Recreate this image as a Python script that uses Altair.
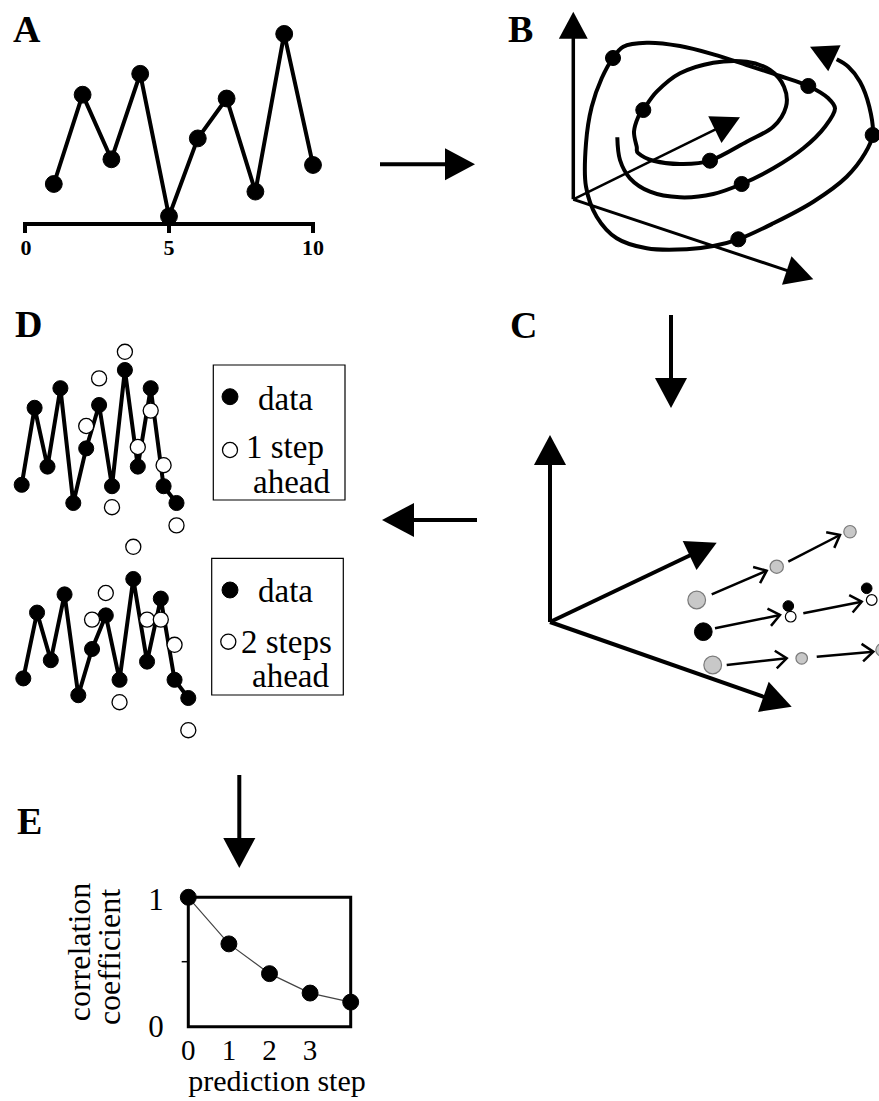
import math
import altair as alt
import pandas as pd

W, H = 879, 1101

# ---------------- data ----------------
# Panel A: time series
a_time = [1, 2, 3, 4, 5, 6, 7, 8, 9, 10]
a_value = [2.0, 6.7, 3.3, 7.8, 0.3, 4.4, 6.5, 1.6, 9.9, 3.0]
a_ticks = [0, 5, 10]

# Panel D: data and predictions
d_time = [1, 2, 3, 4, 5, 6, 7, 8, 9, 10, 11, 12, 13]
d1_data = [1.8, 7.3, 3.1, 8.7, 0.5, 4.4, 7.5, 1.7, 10.0, 3.1, 8.7, 1.7, 0.5]
d1_pred_time = [6, 7, 8, 9, 10, 11, 12, 13]
d1_pred = [6.0, 9.4, 0.2, 11.3, 4.5, 7.1, 3.2, -1.1]
d2_data = [1.9, 6.6, 3.2, 7.9, 0.7, 4.0, 6.4, 1.8, 9.0, 3.1, 7.6, 1.8, 0.5]
d2_pred_time = [6, 7, 8, 9, 10, 11, 12, 13]
d2_pred = [6.1, 8.0, 0.2, 11.3, 6.1, 6.1, 4.3, -1.8]

# Panel E: correlation vs prediction step
e_step = [0, 1, 2, 3, 4]
e_corr = [1.0, 0.64, 0.41, 0.26, 0.19]
e_xticks = [0, 1, 2, 3]
e_yticks = [0, 1]

# Panel B: schematic attractor trajectory (drawing geometry)
b_inner_x = [636.7, 634, 638.3, 643.3, 656.7, 680, 713.3, 746.7, 770, 784, 786, 773.3, 746.7, 710, 680, 653.3, 638.3]
b_inner_y = [146.7, 131.7, 116.7, 110, 91.7, 73.3, 62.7, 61.7, 70, 86.7, 106.7, 126.7, 141.7, 160.7, 164, 160.7, 153.3]
b_outer_x = [617.3, 620, 630, 650, 680, 713.3, 741.7, 773.3, 803.3, 825, 835, 828.3, 808.3, 780, 746.7,
             713.3, 680, 646.7, 623.3, 612.7, 601.7, 591.7, 586, 586, 596.7, 616.7, 646.7, 686.7, 713.3,
             738.3, 773.3, 813.3, 846.7, 865, 872.7, 869.3, 860, 848.3, 836.7]
b_outer_y = [137.3, 160, 178.3, 191.7, 197.3, 194, 184, 168.3, 148.3, 126.7, 108.3, 98.3, 86, 76, 65,
             54.3, 46, 42.7, 46.7, 58.3, 78.3, 106.7, 143.3, 186.7, 216.7, 238.3, 248.3, 249.3, 246,
             239.3, 223.3, 201.7, 176.7, 153.3, 135, 106.7, 81.7, 66.7, 59.3]
b_dot_x = [613, 643.3, 808.3, 710, 741.7, 872.7, 738.3]
b_dot_y = [58, 110, 86, 160.7, 184, 135, 239.3]

# ---------------- helpers ----------------
XS = alt.Scale(domain=[0, W], nice=False, zero=False)
YS = alt.Scale(domain=[0, H], nice=False, zero=False, reverse=True)


def X(f="x"):
    return alt.X(f"{f}:Q", scale=XS, axis=None)


def Y(f="y"):
    return alt.Y(f"{f}:Q", scale=YS, axis=None)


rules = []   # straight segments
heads = []   # filled arrow heads
dots = []    # circles


def seg(x0, y0, x1, y1, sw):
    rules.append(dict(x=x0, y=y0, x2=x1, y2=y1, sw=sw))


def arrow(x0, y0, tx, ty, length, sw, shaft=True):
    dx, dy = tx - x0, ty - y0
    d = math.hypot(dx, dy)
    ux, uy = dx / d, dy / d
    ang = math.degrees(math.atan2(uy, ux)) % 360
    heads.append(dict(x=tx - ux * length / 2, y=ty - uy * length / 2, angle=ang, size=length ** 2))
    if shaft:
        seg(x0, y0, tx - ux * (length - 3), ty - uy * (length - 3), sw)


def dot(x, y, diam, fill, stroke="black", sw=1.0):
    dots.append(dict(x=x, y=y, size=math.pi * (diam / 2) ** 2, fill=fill, stroke=stroke, sw=sw))


# ---------------- Panel A ----------------
a_x = [25 + t * 28.8 for t in a_time]
a_y = [222 - v * 19 for v in a_value]
seg(25, 224, 313, 224, 4)
for t in a_ticks:
    seg(25 + t * 28.8, 222, 25 + t * 28.8, 233, 4)
for x, y in zip(a_x, a_y):
    dot(x, y, 19, "black")

# ---------------- arrows between panels ----------------
arrow(380, 164.3, 475, 164.3, 30, 4)
arrow(671, 315, 671, 408, 30, 4)
arrow(477, 520, 382, 520, 32, 4)
arrow(239.3, 775, 239.3, 868, 30, 4)

# ---------------- Panel B axes ----------------
arrow(573.3, 199.3, 573.3, 11.7, 27, 3.5)
arrow(573.3, 199.3, 813.3, 279.3, 28, 3)
arrow(573.3, 199.3, 740, 117.3, 28, 2.5)
arrow(836.7, 59.3, 810, 46.7, 27, 4, shaft=False)
for x, y in zip(b_dot_x, b_dot_y):
    dot(x, y, 17, "black")

# ---------------- Panel C ----------------
arrow(550, 622, 550, 435, 30, 4)
arrow(550, 622, 716.7, 542.7, 30, 4)
arrow(550, 622, 791.7, 706.7, 30, 4)

c_arrows = [
    (711.7, 594.3, 766.7, 570.7),
    (788.3, 561.7, 840, 535),
    (715, 628.3, 780, 615),
    (803.3, 613.3, 861.7, 601.7),
    (726.7, 665, 786.7, 658.3),
    (816.7, 656.7, 873.3, 651.7),
]
chev = []
for x0, y0, x1, y1 in c_arrows:
    seg(x0, y0, x1, y1, 2.5)
    chev.append(dict(x=x1, y=y1, angle=math.degrees(math.atan2(y1 - y0, x1 - x0)) % 360))

gray = "#c8c8c8"
for x, y, d in [(696.7, 600, 20), (776.7, 566.7, 15), (850, 531.7, 14),
                (712.7, 665, 20), (801.7, 658.3, 13), (882, 650, 14)]:
    dot(x, y, d, gray, "#7a7a7a", 1.2)
dot(790.7, 616.7, 12, "white", "black", 1.2)
dot(871.7, 600, 12, "white", "black", 1.2)
dot(703.3, 631.7, 20, "black")
dot(788.3, 606, 12, "black")
dot(866.7, 588.3, 12, "black")

# ---------------- Panel D ----------------
d1_x = [21.7 + (t - 1) * 12.9 for t in d_time]
d1_y = [510 - v * 14 for v in d1_data]
d1_px = [21.7 + (t - 1) * 12.9 for t in d1_pred_time]
d1_py = [510 - v * 14 for v in d1_pred]
d2_x = [23.3 + (t - 1) * 13.75 for t in d_time]
d2_y = [705 - v * 14 for v in d2_data]
d2_px = [23.3 + (t - 1) * 13.75 for t in d2_pred_time]
d2_py = [705 - v * 14 for v in d2_pred]

series = pd.DataFrame(
    [dict(x=x, y=y, s="d1", o=i) for i, (x, y) in enumerate(zip(d1_x, d1_y))]
    + [dict(x=x, y=y, s="d2", o=i) for i, (x, y) in enumerate(zip(d2_x, d2_y))]
    + [dict(x=x, y=y, s="a", o=i) for i, (x, y) in enumerate(zip(a_x, a_y))]
)
for x, y in zip(d1_x, d1_y):
    dot(x, y, 17, "black")
for x, y in zip(d2_x, d2_y):
    dot(x, y, 17, "black")
for x, y in zip(d1_px, d1_py):
    dot(x, y, 17, "white", "black", 1.3)
for x, y in zip(d2_px, d2_py):
    dot(x, y, 17, "white", "black", 1.3)

# legend boxes
boxes = pd.DataFrame([
    dict(x=213.3, x2=345, y=365, y2=500, sw=1.2),
    dict(x=211.7, x2=343.3, y=558.3, y2=695, sw=1.2),
    dict(x=188.3, x2=350.7, y=897.3, y2=1026.7, sw=3),
])
dot(230, 396.7, 18, "black")
dot(230, 450, 17, "white", "black", 1.3)
dot(230, 590, 18, "black")
dot(228.3, 641.7, 17, "white", "black", 1.3)

# ---------------- Panel E ----------------
e_x = [188.3 + s * 40.6 for s in e_step]
e_y = [1026.7 - c * 129.4 for c in e_corr]
e_line = pd.DataFrame(dict(x=e_x, y=e_y, o=list(range(len(e_x)))))
for x, y in zip(e_x, e_y):
    dot(x, y, 18, "black")
seg(181.7, 961.7, 188.3, 961.7, 1.5)

# ---------------- texts ----------------
letters = pd.DataFrame([
    dict(x=13, y=42, t="A"), dict(x=508, y=42, t="B"), dict(x=510, y=338, t="C"),
    dict(x=15, y=337, t="D"), dict(x=17, y=834, t="E"),
])
a_lab = pd.DataFrame([dict(x=25 + t * 28.8 + (1 if t == 0 else 0), y=255, t=str(t)) for t in a_ticks])
legend_txt = pd.DataFrame([
    dict(x=258, y=410, t="data"), dict(x=246, y=458, t="1 step"), dict(x=253, y=493, t="ahead"),
    dict(x=258, y=602, t="data"), dict(x=241, y=653, t="2 steps"), dict(x=252, y=687, t="ahead"),
])
e_xtick_txt = pd.DataFrame([dict(x=188.3 + s * 40.6, y=1060, t=str(s)) for s in e_xticks])
e_ytick_txt = pd.DataFrame([dict(x=156, y=1036.7 - v * 126.7, t=str(v)) for v in e_yticks])
e_title = pd.DataFrame([dict(x=277, y=1091, t="prediction step")])
e_rot = pd.DataFrame([
    dict(x=90, y=952, t="correlation"),
    dict(x=120, y=957, t="coefficient"),
])

SERIF = "Liberation Serif"

# ---------------- layers ----------------
layers = []
layers.append(alt.Chart(pd.DataFrame(rules)).mark_rule(color="black").encode(
    x=X(), y=Y(), x2="x2:Q", y2="y2:Q", strokeWidth=alt.StrokeWidth("sw:Q", scale=None)))
layers.append(alt.Chart(boxes).mark_rect(fillOpacity=0, stroke="black").encode(
    x=X(), y=Y(), x2="x2:Q", y2="y2:Q", strokeWidth=alt.StrokeWidth("sw:Q", scale=None)))
layers.append(alt.Chart(pd.DataFrame(dict(x=b_inner_x, y=b_inner_y, o=list(range(len(b_inner_x))))))
              .mark_line(color="black", strokeWidth=4, interpolate="cardinal-closed")
              .encode(x=X(), y=Y(), order="o:Q"))
layers.append(alt.Chart(pd.DataFrame(dict(x=b_outer_x, y=b_outer_y, o=list(range(len(b_outer_x))))))
              .mark_line(color="black", strokeWidth=4, interpolate="catmull-rom")
              .encode(x=X(), y=Y(), order="o:Q"))
layers.append(alt.Chart(series).mark_line(color="black", strokeWidth=4, strokeJoin="miter").encode(
    x=X(), y=Y(), detail="s:N", order="o:Q"))
layers.append(alt.Chart(e_line).mark_line(color="#444444", strokeWidth=1.2).encode(
    x=X(), y=Y(), order="o:Q"))
layers.append(alt.Chart(pd.DataFrame(heads)).mark_point(
    shape="M 1 0 L -1 -1.07 L -1 1.07 Z", filled=True, color="black", opacity=1, strokeWidth=0).encode(
    x=X(), y=Y(), angle=alt.Angle("angle:Q", scale=None), size=alt.Size("size:Q", scale=None)))
layers.append(alt.Chart(pd.DataFrame(chev)).mark_point(
    shape="M -1 -0.8 L 0 0 L -1 0.8", filled=False, color="black", opacity=1, strokeWidth=2.5, size=484).encode(
    x=X(), y=Y(), angle=alt.Angle("angle:Q", scale=None)))
layers.append(alt.Chart(pd.DataFrame(dots)).mark_circle(opacity=1).encode(
    x=X(), y=Y(), size=alt.Size("size:Q", scale=None),
    fill=alt.Fill("fill:N", scale=None), stroke=alt.Stroke("stroke:N", scale=None),
    strokeWidth=alt.StrokeWidth("sw:Q", scale=None)))
layers.append(alt.Chart(letters).mark_text(font=SERIF, fontSize=38, fontWeight="bold", align="left",
                                           baseline="alphabetic", color="black").encode(x=X(), y=Y(), text="t:N"))
layers.append(alt.Chart(a_lab).mark_text(font=SERIF, fontSize=22, fontWeight="bold", align="center",
                                         baseline="alphabetic", color="black").encode(x=X(), y=Y(), text="t:N"))
layers.append(alt.Chart(legend_txt).mark_text(font=SERIF, fontSize=33, align="left",
                                              baseline="alphabetic", color="black").encode(x=X(), y=Y(), text="t:N"))
layers.append(alt.Chart(e_ytick_txt).mark_text(font=SERIF, fontSize=31, align="center",
                                               baseline="alphabetic", color="black").encode(x=X(), y=Y(), text="t:N"))
layers.append(alt.Chart(e_xtick_txt).mark_text(font=SERIF, fontSize=29, align="center",
                                               baseline="alphabetic", color="black").encode(x=X(), y=Y(), text="t:N"))
layers.append(alt.Chart(e_title).mark_text(font=SERIF, fontSize=30, align="center",
                                           baseline="alphabetic", color="black").encode(x=X(), y=Y(), text="t:N"))
layers.append(alt.Chart(e_rot).mark_text(font=SERIF, fontSize=32, align="center", angle=270,
                                         baseline="alphabetic", color="black").encode(x=X(), y=Y(), text="t:N"))

chart = alt.layer(*layers).properties(
    width=W, height=H, padding=0, autosize=alt.AutoSizeParams(type="none"), background="white"
).configure_view(stroke=None)

chart.save("out.html", embed_options={"renderer": "svg", "actions": False})
